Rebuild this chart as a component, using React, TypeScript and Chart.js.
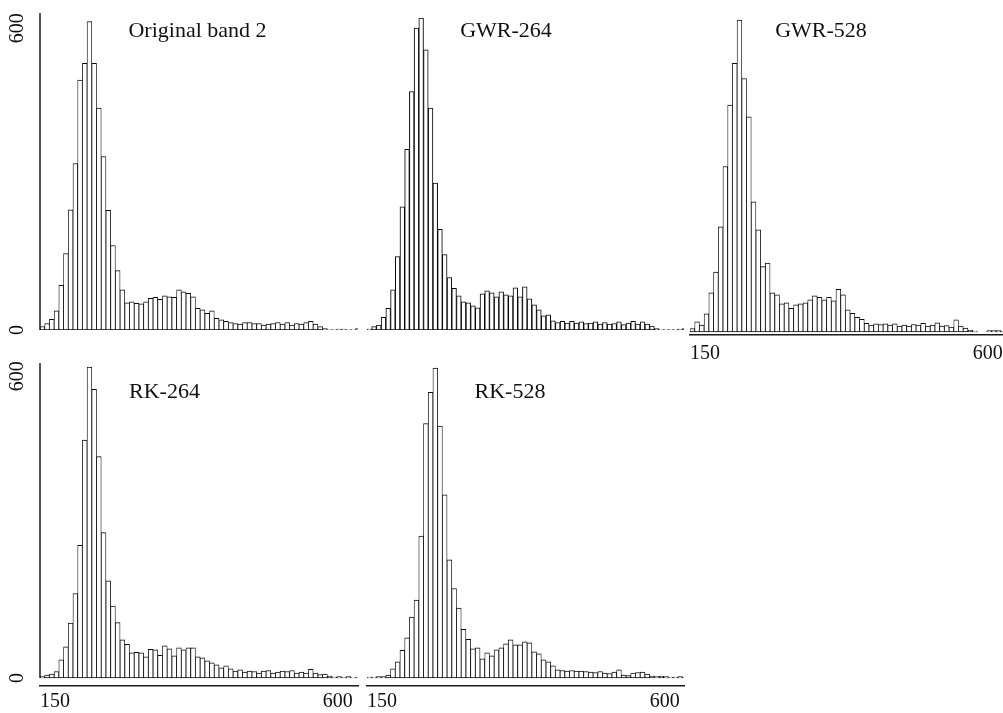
import React, { useEffect, useRef } from "react";
import { Chart, registerables } from "chart.js";

Chart.register(...registerables);

// Histogram breaks (value units) and axis ticks
const BIN_START = 126;
const BIN_WIDTH = 7.5;
const X_TICKS = [150, 600];
const Y_TICKS = [0, 600];

// Bin counts (68 bins each)
const originalBand2 = [
  7, 13, 21, 38, 89, 152, 239, 331, 497, 530,
  613, 530, 441, 345, 238, 168, 118, 80, 54, 56,
  53, 52, 56, 63, 65, 61, 68, 66, 65, 80,
  76, 73, 66, 43, 40, 33, 38, 23, 20, 17,
  15, 13, 12, 15, 15, 13, 13, 10, 12, 13,
  15, 12, 15, 10, 13, 12, 15, 17, 12, 7,
  3, 1, 1, 2, 2, 1, 1, 3,
];
const gwr264 = [
  2, 7, 10, 25, 43, 80, 146, 245, 359, 474,
  600, 620, 557, 441, 292, 200, 150, 104, 83, 68,
  56, 54, 48, 44, 72, 78, 74, 66, 76, 70,
  68, 84, 66, 86, 62, 50, 40, 28, 30, 18,
  15, 17, 14, 17, 14, 16, 13, 14, 16, 12,
  15, 12, 13, 16, 11, 14, 17, 12, 16, 12,
  8, 3, 1, 1, 1, 1, 2, 3,
];
const gwr528 = [
  7, 20, 14, 36, 78, 119, 209, 329, 451, 534,
  620, 504, 428, 259, 203, 130, 137, 78, 74, 56,
  58, 47, 54, 56, 58, 64, 72, 69, 64, 69,
  62, 85, 74, 44, 37, 29, 25, 17, 14, 16,
  15, 16, 14, 16, 12, 14, 12, 15, 14, 17,
  12, 14, 18, 12, 13, 10, 24, 12, 8, 4,
  2, 0, 0, 3, 3, 3, 2, 2,
];
const rk264 = [
  3, 6, 8, 13, 36, 62, 109, 168, 264, 473,
  618, 574, 440, 289, 193, 143, 110, 76, 67, 50,
  51, 50, 42, 57, 56, 45, 64, 58, 44, 60,
  56, 60, 60, 42, 40, 34, 30, 26, 20, 24,
  18, 14, 16, 12, 14, 13, 10, 14, 15, 10,
  12, 14, 13, 15, 10, 12, 10, 17, 10, 7,
  8, 4, 2, 3, 2, 3, 1, 2,
];
const rk528 = [
  2, 2, 3, 3, 6, 18, 32, 55, 80, 121,
  155, 282, 506, 568, 616, 501, 364, 235, 178, 139,
  97, 77, 58, 60, 38, 50, 44, 56, 60, 68,
  76, 66, 66, 72, 70, 52, 48, 36, 32, 24,
  16, 15, 14, 15, 14, 14, 13, 12, 11, 13,
  10, 9, 12, 16, 6, 5, 10, 11, 12, 8,
  4, 3, 4, 3, 2, 2, 3, 1,
];

const TITLES = ["Original band 2", "GWR-264", "GWR-528", "RK-264", "RK-528"];

// Layout (pixels)
const PX_Y = 0.503; // px per count
const PX_X = 0.628; // px per value unit
const YAXIS_W = 40;
const XAXIS_H = 26;
const SERIF = '"Liberation Serif", "Times New Roman", serif';
const INK = "#1a1a1a";

type Rect = { left: number; top: number; width: number; height: number };
type Area = { left: number; top: number; right: number; bottom: number };
type PanelSpec = {
  title: string;
  values: number[];
  canvas: Rect;
  area: Area;
  baseline: number;
  showY: boolean;
  showX: boolean;
  xTickPad: number;
  edge: number;
  titleX: number;
  titleY: number;
};

const PANELS: PanelSpec[] = [
  {
    title: TITLES[0], values: originalBand2,
    canvas: { left: 0, top: 0, width: 362, height: 340 },
    area: { left: 40, top: 13, right: 358, bottom: 330 },
    baseline: 330, showY: true, showX: false, xTickPad: 4, edge: 0.8,
    titleX: 197.5, titleY: 29.5,
  },
  {
    title: TITLES[1], values: gwr264,
    canvas: { left: 362, top: 0, width: 330, height: 340 },
    area: { left: 367, top: 13, right: 684, bottom: 330 },
    baseline: 330, showY: false, showX: false, xTickPad: 4, edge: 1.05,
    titleX: 506, titleY: 30,
  },
  {
    title: TITLES[2], values: gwr528,
    canvas: { left: 686, top: 0, width: 340, height: 380 },
    area: { left: 690, top: 13, right: 1010, bottom: 335 },
    baseline: 332, showY: false, showX: true, xTickPad: 7, edge: 0.8,
    titleX: 821, titleY: 29.5,
  },
  {
    title: TITLES[3], values: rk264,
    canvas: { left: 0, top: 350, width: 362, height: 363 },
    area: { left: 40, top: 363, right: 358, bottom: 686 },
    baseline: 678, showY: true, showX: true, xTickPad: 4, edge: 0.8,
    titleX: 164.5, titleY: 391,
  },
  {
    title: TITLES[4], values: rk528,
    canvas: { left: 362, top: 350, width: 330, height: 363 },
    area: { left: 367, top: 363, right: 684, bottom: 686 },
    baseline: 678, showY: false, showX: true, xTickPad: 4, edge: 0.8,
    titleX: 510, titleY: 391,
  },
];

// Draws the left axis line from the top of the plot down to the zero baseline
const yAxisLine = {
  id: "yAxisLine",
  afterDraw(chart: any, _args: any, opts: any) {
    if (!opts || !opts.show) return;
    const y = chart.scales.y;
    const { ctx, chartArea } = chart;
    ctx.save();
    ctx.strokeStyle = INK;
    ctx.lineWidth = 1.5;
    ctx.beginPath();
    ctx.moveTo(chartArea.left, chartArea.top);
    ctx.lineTo(chartArea.left, y.getPixelForValue(0));
    ctx.stroke();
    ctx.restore();
  },
};

function Panel({ spec }: { spec: PanelSpec }) {
  const ref = useRef<HTMLCanvasElement | null>(null);
  useEffect(() => {
    const canvas = ref.current;
    if (!canvas) return;
    const { canvas: c, area, baseline, showX, showY, values } = spec;
    const padding = {
      left: area.left - c.left - (showY ? YAXIS_W : 0),
      top: area.top - c.top,
      right: c.left + c.width - area.right,
      bottom: c.top + c.height - area.bottom - (showX ? XAXIS_H : 0),
    };
    const xMin = BIN_START;
    const xMax = BIN_START + (area.right - area.left) / PX_X;
    const yMin = -(area.bottom - baseline) / PX_Y;
    const yMax = (baseline - area.top) / PX_Y;
    const data = values.map((v, i) => ({ x: BIN_START + (i + 0.5) * BIN_WIDTH, y: v }));
    const font = { family: SERIF, size: 20 };
    const chart = new Chart(canvas, {
      type: "bar",
      data: {
        datasets: [
          {
            data: data as any,
            backgroundColor: "#ffffff",
            borderColor: "#0a0a0a",
            borderWidth: { top: 1, bottom: 1, left: spec.edge, right: spec.edge } as any,
            borderSkipped: false,
            barPercentage: 1,
            categoryPercentage: 1,
          },
        ],
      },
      plugins: [yAxisLine],
      options: {
        responsive: false,
        animation: false,
        events: [],
        layout: { padding },
        plugins: {
          legend: { display: false },
          tooltip: { enabled: false },
          title: { display: false },
          yAxisLine: { show: showY },
        },
        scales: {
          x: {
            type: "linear",
            min: xMin,
            max: xMax,
            offset: false,
            display: showX,
            position: "bottom",
            grid: { display: false, drawTicks: false },
            border: { display: true, color: INK, width: 1.5 },
            ticks: {
              font,
              color: "#111",
              padding: spec.xTickPad,
              maxRotation: 0,
              autoSkip: false,
              callback: (v: any) => String(v),
            },
            afterBuildTicks: (s: any) => {
              s.ticks = X_TICKS.map((v) => ({ value: v }));
            },
            afterFit: (s: any) => {
              s.height = showX ? XAXIS_H : 0;
              s.paddingLeft = 0;
              s.paddingRight = 0;
            },
          },
          y: {
            type: "linear",
            min: yMin,
            max: yMax,
            display: showY,
            position: "left",
            grid: { display: false, drawTicks: false },
            border: { display: false },
            ticks: {
              font,
              color: "#111",
              padding: 7.5,
              minRotation: 90,
              maxRotation: 90,
              crossAlign: "center",
              autoSkip: false,
              callback: (v: any) => String(v),
            },
            afterBuildTicks: (s: any) => {
              s.ticks = Y_TICKS.map((v) => ({ value: v }));
            },
            afterFit: (s: any) => {
              s.width = showY ? YAXIS_W : 0;
              s.paddingTop = 0;
              s.paddingBottom = 0;
            },
          },
        },
      } as any,
    });
    return () => chart.destroy();
  }, [spec]);

  const c = spec.canvas;
  return (
    <>
      <canvas
        ref={ref}
        width={c.width}
        height={c.height}
        style={{ position: "absolute", left: c.left, top: c.top, width: c.width, height: c.height }}
      />
      <div
        style={{
          position: "absolute",
          left: spec.titleX,
          top: spec.titleY,
          transform: "translate(-50%, -50%)",
          fontFamily: SERIF,
          fontSize: 22,
          lineHeight: 1,
          whiteSpace: "nowrap",
          color: "#111",
        }}
      >
        {spec.title}
      </div>
    </>
  );
}

export default function App() {
  return (
    <div
      style={{
        position: "absolute",
        left: 0,
        top: 0,
        width: 1003,
        height: 713,
        overflow: "hidden",
        background: "#ffffff",
      }}
    >
      {PANELS.map((p) => (
        <Panel key={p.title} spec={p} />
      ))}
    </div>
  );
}
